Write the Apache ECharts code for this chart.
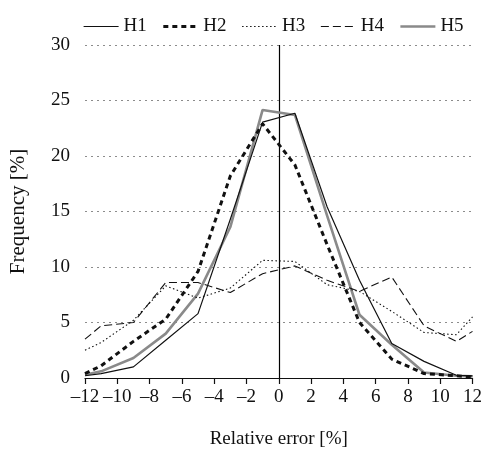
<!DOCTYPE html>
<html>
<head>
<meta charset="utf-8">
<script src="https://cdn.jsdelivr.net/npm/echarts@6/dist/echarts.min.js"></script>
<style>
html,body{margin:0;padding:0;background:#fff;}
#chart{width:485px;height:455px;}
</style>
</head>
<body>
<div id="chart"></div>
<script>
var xValues = [-12, -11, -9, -7, -5, -3, -1, 1, 3, 5, 7, 9, 11, 12];
var h1 = [0.2, 0.4, 1.0, 3.4, 5.8, 14.3, 23.05, 23.85, 15.4, 8.8, 3.1, 1.5, 0.25, 0.2];
var h2 = [0.4, 1.1, 3.3, 5.3, 9.6, 18.2, 22.9, 19.2, 12.0, 5.0, 1.7, 0.4, 0.2, 0.1];
var h3 = [2.5, 3.2, 5.2, 8.3, 7.2, 8.1, 10.6, 10.5, 8.4, 7.8, 6.0, 4.1, 3.9, 5.5];
var h4 = [3.5, 4.7, 5.0, 8.6, 8.6, 7.7, 9.4, 10.1, 8.8, 7.8, 9.1, 4.7, 3.3, 4.2];
var h5 = [0.3, 0.6, 1.8, 4.0, 7.6, 13.6, 24.15, 23.7, 14.6, 5.7, 3.0, 0.5, 0.2, 0.15];
var seriesNames = ['H1', 'H2', 'H3', 'H4', 'H5'];
var xTicks = {min: -12, max: 12, interval: 2};
var yTicks = {min: 0, max: 30, interval: 5};
var xTitle = 'Relative error [%]';
var yTitle = 'Frequency [%]';

function pairs(ys) { return xValues.map(function (x, i) { return [x, ys[i]]; }); }

var FONT = 'Liberation Serif';
var styles = [
  {color: '#111', width: 1.2, type: 'solid'},
  {color: '#111', width: 3, type: [5, 4]},
  {color: '#111', width: 1.1, type: [1.5, 2.5]},
  {color: '#111', width: 1.1, type: [8, 4]},
  {color: '#8a8a8a', width: 2.6, type: 'solid'}
];
var allData = [h1, h2, h3, h4, h5];

var series = allData.map(function (d, i) {
  var s = {
    name: seriesNames[i],
    type: 'line',
    data: pairs(d),
    symbol: 'none',
    lineStyle: {color: styles[i].color, width: styles[i].width, type: styles[i].type},
    itemStyle: {color: styles[i].color},
    z: 10 - i
  };
  if (i === 0) {
    s.markLine = {
      silent: true,
      symbol: ['none', 'none'],
      label: {show: false},
      lineStyle: {color: '#000', width: 1.2, type: 'solid'},
      data: [{xAxis: 0}]
    };
  }
  return s;
});

var legendData = seriesNames.map(function (n, i) {
  return {
    name: n,
    itemStyle: {opacity: 0},
    lineStyle: {color: styles[i].color, width: styles[i].width, type: styles[i].type, opacity: 1}
  };
});

var chart = echarts.init(document.getElementById('chart'), null, {renderer: 'canvas'});
chart.setOption({
  animation: false,
  backgroundColor: '#fff',
  legend: {
    top: 12,
    left: 78,
    itemWidth: 35,
    itemHeight: 10,
    itemGap: 15,
    textStyle: {fontFamily: FONT, fontSize: 19, color: '#111'},
    data: legendData
  },
  grid: {left: 83, right: 11, top: 45, bottom: 77, containLabel: false},
  xAxis: {
    type: 'value',
    min: xTicks.min, max: xTicks.max, interval: xTicks.interval,
    name: xTitle,
    nameLocation: 'middle',
    nameGap: 52,
    nameTextStyle: {fontFamily: FONT, fontSize: 19, color: '#111'},
    axisLine: {onZero: false, lineStyle: {color: '#111', width: 1.2}},
    axisTick: {show: true, length: 6, inside: false, lineStyle: {color: '#111', width: 1.2}},
    axisLabel: {fontFamily: FONT, fontSize: 19, color: '#111', margin: 10,
      formatter: function (v) { return String(v).replace('-', '\u2013'); }},
    splitLine: {show: false}
  },
  yAxis: {
    type: 'value',
    min: yTicks.min, max: yTicks.max, interval: yTicks.interval,
    name: yTitle,
    nameLocation: 'middle',
    nameGap: 56,
    nameRotate: 90,
    nameTextStyle: {fontFamily: FONT, fontSize: 21, color: '#111'},
    axisLine: {show: false},
    axisTick: {show: false},
    axisLabel: {fontFamily: FONT, fontSize: 19, color: '#111', margin: 15},
    splitLine: {show: true, lineStyle: {color: '#8c8c8c', width: 1, type: [2, 4]}}
  },
  series: series
});
</script>
</body>
</html>
